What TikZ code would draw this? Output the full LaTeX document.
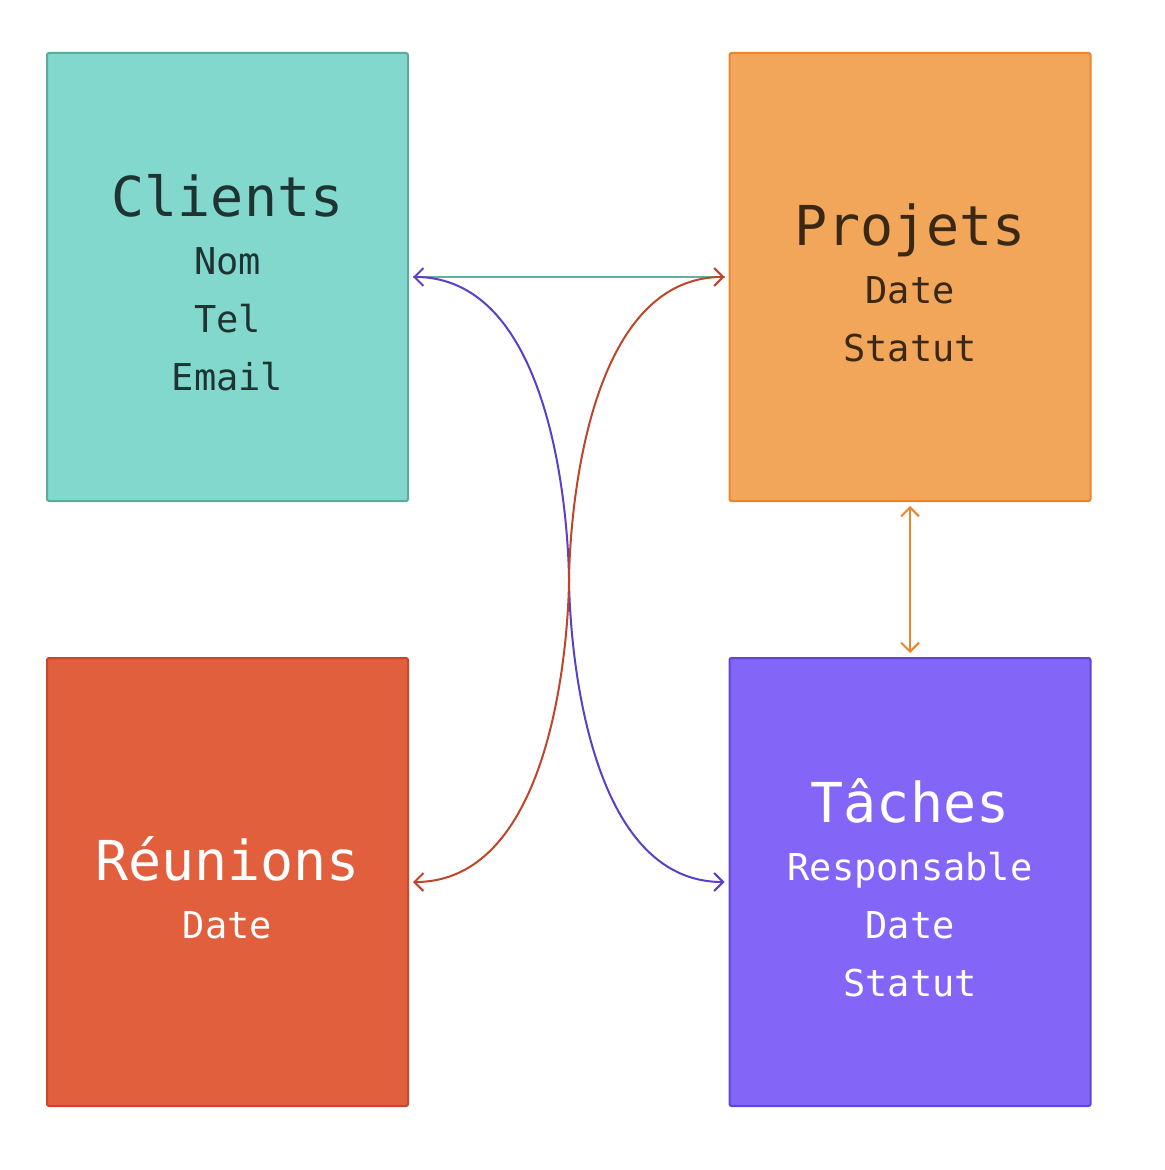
\documentclass[tikz,border=0pt]{standalone}
\usepackage{fontspec}
\newfontfamily\boxfont{DejaVu Sans Mono}
\usetikzlibrary{arrows.meta}
\definecolor{cliFill}{HTML}{82D8CD}
\definecolor{cliLine}{HTML}{5FA89E}
\definecolor{cliText}{HTML}{1F3432}
\definecolor{proFill}{HTML}{F2A65A}
\definecolor{proLine}{HTML}{E8862F}
\definecolor{proText}{HTML}{3A2814}
\definecolor{reuFill}{HTML}{E15F3D}
\definecolor{reuLine}{HTML}{C4492C}
\definecolor{tacFill}{HTML}{8366F8}
\definecolor{tacLine}{HTML}{6147CF}
\definecolor{tealEdge}{HTML}{5BB3A6}
\definecolor{purpEdge}{HTML}{5B3FC6}
\definecolor{redEdge}{HTML}{C0442A}
\definecolor{orgEdge}{HTML}{E8862F}
\tikzset{
  entity/.style={draw, line width=1pt, rounded corners=1pt, minimum width=180.5pt, minimum height=224pt, inner sep=0pt},
  etext/.style={align=center, inner sep=0pt, font=\boxfont\fontsize{18.5}{29}\selectfont},
  link/.style={line width=1pt, {Straight Barb[length=4.5pt,width=9pt]}-{Straight Barb[length=4.5pt,width=9pt]},
    shorten <=2pt, shorten >=2pt},
}
\newcommand{\ttl}[1]{{\fontsize{27.5}{29}\selectfont #1}}
\begin{document}
\begin{tikzpicture}[x=0.5pt,y=-0.5pt]
\useasboundingbox (0,0) rectangle (1164,1170);
\node[entity, fill=cliFill, draw=cliLine] (cli) at (227.5,277) {};
\node[entity, fill=proFill, draw=proLine] (pro) at (910,277) {};
\node[entity, fill=reuFill, draw=reuLine] (reu) at (227.5,882) {};
\node[entity, fill=tacFill, draw=tacLine] (tac) at (910,882) {};
\node[etext, text=cliText] (cliT) at ([yshift=-3pt]cli.center) {\ttl{Clients}\\Nom\\Tel\\Email};
\node[etext, text=proText] (proT) at ([yshift=-3pt]pro.center) {\ttl{Projets}\\Date\\Statut};
\node[etext, text=white] (reuT) at ([yshift=-3pt]reu.center) {\ttl{Réunions}\\Date};
\node[etext, text=white] (tacT) at ([yshift=-3pt]tac.center) {\ttl{Tâches}\\Responsable\\Date\\Statut};
\coordinate (mid) at (569,580);
\draw[line width=1pt, tealEdge, shorten <=2pt, shorten >=2pt] (cli.east) -- (pro.west);
\draw[link, purpEdge] (cli.east) .. controls (569,277) and (mid) .. (mid) .. controls (mid) and (569,882) .. (tac.west);
\draw[link, redEdge] (reu.east) .. controls (569,882) and (mid) .. (mid) .. controls (mid) and (569,277) .. (pro.west);
\draw[link, orgEdge] (pro.south) -- (tac.north);
\end{tikzpicture}
\end{document}
